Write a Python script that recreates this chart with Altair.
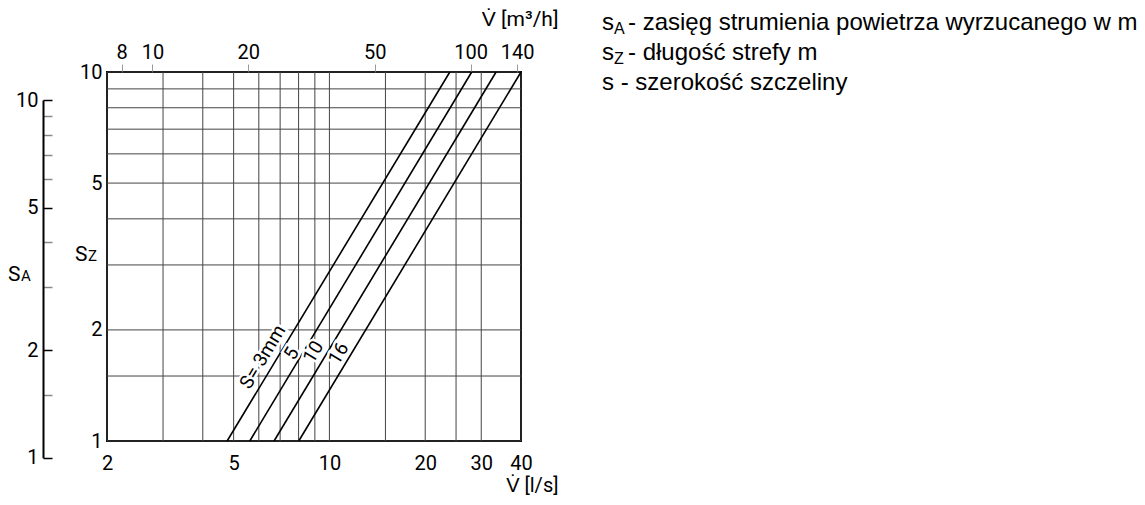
import altair as alt
import pandas as pd

# ---- data ----
x_grid = [2, 3, 4, 5, 6, 7, 8, 9, 10, 15, 20, 25, 30, 40]
y_grid = [1, 1.5, 2, 3, 4, 5, 6, 7, 8, 9, 10]
x_labels = [2, 5, 10, 20, 30, 40]
y_labels = [1, 2, 5, 10]
top_labels = [8, 10, 20, 50, 100, 140]
sa_ticks = [1, 1.5, 2, 3, 4, 5, 6, 7, 8, 9, 10]
sa_labels = [1, 2, 5, 10]

series = ["3", "5", "10", "16"]
v_start = [4.77, 5.62, 6.70, 8.01]
v_end = [23.9, 28.0, 33.4, 40.0]
sz_start = [1, 1, 1, 1]
sz_end = [10, 10, 10, 10]

label_text = ["S= 3mm", "5", "10", "16"]
label_v = [6.17, 7.61, 8.91, 10.68]
label_sz = [1.69, 1.726, 1.743, 1.726]

legend_rest = ["- zasięg strumienia powietrza wyrzucanego w m", "- długość strefy m"]
legend_last = "s - szerokość szczeliny"

W, H = 414, 369
FONT = "Roboto, sans-serif"
LFONT = "Liberation Sans, Arial, sans-serif"
FS = 20

xs = alt.Scale(type="log", domain=[2, 40], nice=False)
ys = alt.Scale(type="log", domain=[1, 10], nice=False)

xaxis = alt.Axis(
    orient="bottom", values=x_labels, tickSize=0, domain=False, grid=False,
    labelPadding=12, labelFlush=False, labelFont=FONT, labelFontSize=FS, labelColor="black",
    title="V̇ [l/s]", titleFont=FONT, titleFontSize=FS, titleFontWeight="normal",
    titleColor="black", titleX=451, titleY=50, titleAlign="right",
    titleBaseline="alphabetic", titleAnchor="end")
yaxis = alt.Axis(
    orient="left", values=y_labels, tickSize=0, domain=False, grid=False,
    labelPadding=5, labelFont=FONT, labelFontSize=FS, labelColor="black",
    title=None)

lines_df = pd.DataFrame({
    "s": series + series,
    "V": v_start + v_end,
    "Sz": sz_start + sz_end,
})
labels_df = pd.DataFrame({"t": label_text, "V": label_v, "Sz": label_sz})
one = pd.DataFrame({"a": [0]})

vgrid = alt.Chart(pd.DataFrame({"V": x_grid})).mark_rule(color="#444", strokeWidth=1).encode(
    x=alt.X("V:Q", scale=xs, axis=xaxis))
hgrid = alt.Chart(pd.DataFrame({"Sz": y_grid})).mark_rule(color="#444", strokeWidth=1).encode(
    y=alt.Y("Sz:Q", scale=ys, axis=yaxis))

lines = alt.Chart(lines_df).mark_line(color="black", strokeWidth=1.6).encode(
    x=alt.X("V:Q", scale=xs, axis=xaxis),
    y=alt.Y("Sz:Q", scale=ys, axis=yaxis),
    detail="s:N",
)

halo = alt.Chart(labels_df).mark_text(
    font=FONT, fontSize=19, angle=301, align="center", baseline="middle",
    stroke="white", strokeWidth=5, color="white").encode(
    x=alt.X("V:Q", scale=xs, axis=xaxis), y=alt.Y("Sz:Q", scale=ys, axis=yaxis), text="t:N")
labs = alt.Chart(labels_df).mark_text(
    font=FONT, fontSize=19, angle=301, align="center", baseline="middle",
    color="black").encode(
    x=alt.X("V:Q", scale=xs, axis=xaxis), y=alt.Y("Sz:Q", scale=ys, axis=yaxis), text="t:N")


def txt(s, x, y, size, font, baseline="alphabetic"):
    return alt.Chart(one).mark_text(
        text=s, font=font, fontSize=size, align="left", baseline=baseline,
        color="black").encode(x=alt.value(x), y=alt.value(y))


LS, LSUB = 24, 16
annots = [
    txt("S", -32, 189, 21, FONT), txt("Z", -19, 189, 15, FONT),
    txt("S", -99, 209, 21, FONT), txt("A", -86, 209, 15, FONT),
    txt("s", 495, -42, LS, LFONT), txt("A", 507, -38, LSUB, LFONT), txt(legend_rest[0], 521, -42, LS, LFONT),
    txt("s", 495, -12, LS, LFONT), txt("Z", 507, -8, LSUB, LFONT), txt(legend_rest[1], 521, -12, LS, LFONT),
    txt(legend_last, 495, 18, LS, LFONT),
]

main = alt.layer(vgrid, hgrid, lines, halo, labs, *annots)

top = alt.Chart(pd.DataFrame({"m3h": top_labels})).mark_point(opacity=0).encode(
    x=alt.X("m3h:Q", scale=alt.Scale(type="log", domain=[7.2, 144], nice=False), axis=alt.Axis(
        orient="top", values=top_labels, tickSize=8, tickColor="#999", domain=False, grid=False,
        labelPadding=2, labelFlush=False, labelFont=FONT, labelFontSize=FS, labelColor="black",
        title="V̇ [m³/h]", titleFont=FONT, titleFontSize=21, titleFontWeight="normal",
        titleColor="black", titleX=451, titleY=-47, titleAlign="right",
        titleBaseline="alphabetic", titleAnchor="end")))

sa = alt.Chart(pd.DataFrame({"sa": sa_ticks})).mark_point(opacity=0).encode(
    y=alt.Y("sa:Q", scale=alt.Scale(type="log", domain=[1, 10], nice=False, range=[385.7, 28]),
            axis=alt.Axis(
                orient="right", offset=-478, values=sa_ticks, tickSize=9,
                tickColor={"condition": {"test": "indexof([1,2,5,10], datum.value) >= 0", "value": "black"}, "value": "#888"},
                tickWidth=1.5,
                domain=True, domainColor="black", domainWidth=2, grid=False,
                labelExpr="indexof([1,2,5,10], datum.value) >= 0 ? datum.label : ''",
                labelAlign="right", labelPadding=-14, labelFont=FONT, labelFontSize=FS,
                labelColor="black", title=None)))

chart = alt.layer(main, top, sa).resolve_scale(x="independent", y="independent").properties(
    width=W, height=H,
    autosize=alt.AutoSizeParams(type="none"),
    padding={"left": 99, "top": 64, "right": 616, "bottom": 56},
).configure_view(stroke="black", strokeWidth=2)

chart.save("out.html", embed_options={"renderer": "svg", "actions": False})
